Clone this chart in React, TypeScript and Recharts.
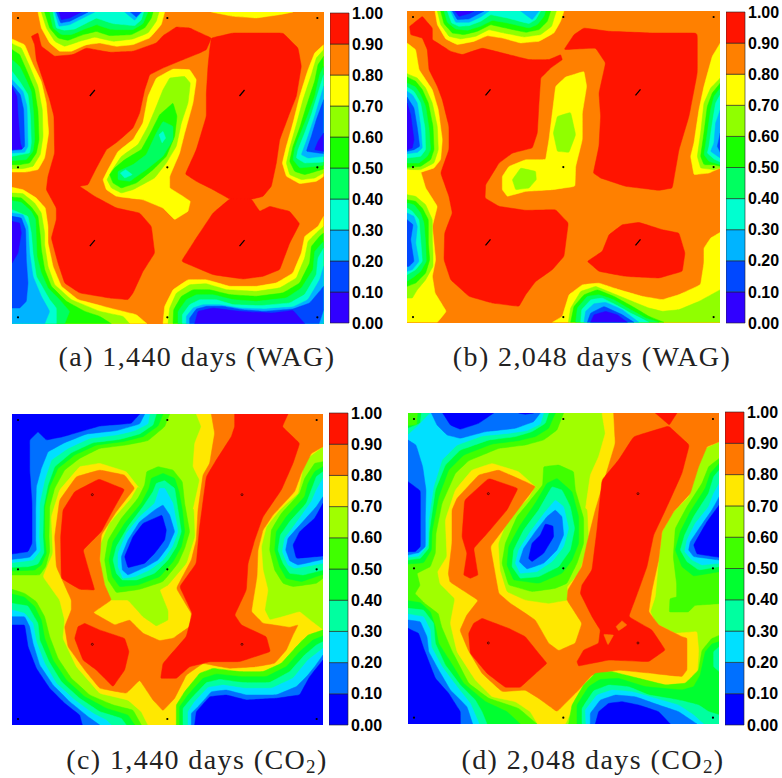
import React from 'react';
import { ScatterChart, Scatter, XAxis, YAxis, BarChart, Bar } from 'recharts';

type Band = [number, number[]];

const LEVEL_EDGES = [0, 0.1, 0.2, 0.3, 0.4, 0.5, 0.6, 0.7, 0.8, 0.9, 1];
const TICKS = LEVEL_EDGES;
const WAG_COLORS = ['#3000ff', '#0048ff', '#00b4ff', '#00ffd0', '#00ff60', '#18ff00', '#90ff00', '#ffff00', '#ff8000', '#ff1400'];
const CO2_COLORS = ['#0000ff', '#0070ff', '#00e0ff', '#00ffa0', '#00ff30', '#40ff00', '#a0ff00', '#ffe800', '#ff7800', '#ff1400'];

const bandsA: Band[] = [
  [7, [635,37,700,50,770,55,840,45,880,37]],
  [7, [115,37,125,85,150,130,180,155,215,155,260,135,300,130,350,140,400,135,450,115,485,75,495,37]],
  [6, [125,37,140,85,165,125,195,140,240,125,285,112,340,125,400,118,445,100,470,65,478,37]],
  [5, [135,37,150,85,175,115,205,122,250,105,290,95,330,108,395,105,435,85,455,55,460,37]],
  [4, [150,37,160,85,185,105,215,105,255,88,290,75,335,90,400,90,430,72,445,37]],
  [3, [160,37,170,85,195,92,225,88,265,68,290,55,340,72,405,78,425,60,432,37]],
  [2, [165,37,178,80,210,75,250,55,285,37]],
  [2, [375,37,405,62,425,37]],
  [1, [170,37,183,70,210,65,250,45,265,37]],
  [1, [392,37,410,52,425,37]],
  [0, [178,37,185,60,210,55,245,37]],
  [7, [37,118,75,135,100,195,125,245,140,310,147,400,135,475,115,510,80,517,37,517]],
  [6, [37,132,65,145,90,200,115,260,128,330,130,410,122,465,100,500,70,507,37,507]],
  [5, [37,150,60,165,80,210,105,270,115,335,118,420,110,460,90,490,60,495,37,495]],
  [4, [37,180,60,200,75,230,95,275,102,340,105,420,100,455,80,480,37,483]],
  [3, [37,215,60,245,85,285,92,345,95,430,90,460,37,470]],
  [2, [37,240,70,275,82,320,85,440,75,458,37,460]],
  [1, [37,255,62,285,72,330,75,440,65,450,37,452]],
  [0, [37,262,52,290,55,345,62,430,68,448,37,450]],
  [7, [37,563,70,570,110,595,137,625,145,680,145,730,160,800,185,860,235,900,330,925,410,945,442,972,37,972]],
  [6, [37,580,70,582,105,610,125,640,135,700,135,735,145,800,165,855,215,900,300,935,370,950,390,972,37,972]],
  [5, [37,592,65,595,95,622,115,650,122,710,125,750,135,810,155,860,200,905,255,935,300,950,335,972,37,972]],
  [4, [37,603,65,608,95,635,108,660,110,720,112,770,125,820,145,865,180,900,210,935,195,972,37,972]],
  [3, [37,630,85,650,95,700,100,760,110,830,150,900,170,925,170,972,37,972]],
  [2, [37,640,70,645,85,680,90,760,100,830,125,890,150,935,135,972,37,972]],
  [1, [37,650,65,655,78,690,80,780,85,850,80,905,60,925,37,925]],
  [0, [37,665,60,670,65,700,55,760,37,790]],
  [7, [972,135,945,160,925,210,900,290,880,370,860,440,848,490,860,530,900,552,950,545,972,530]],
  [6, [972,150,950,175,935,225,910,300,890,375,870,445,860,490,870,525,905,540,945,535,972,520]],
  [5, [972,170,955,195,945,245,920,320,900,385,880,440,870,485,885,515,915,525,972,508]],
  [4, [972,200,960,225,945,290,925,345,905,395,885,445,880,480,900,505,972,497]],
  [3, [972,225,955,280,935,345,915,400,895,450,890,475,915,490,972,487]],
  [2, [972,260,960,300,945,350,925,410,905,465,925,475,972,470]],
  [1, [972,300,950,360,935,410,920,455,972,462]],
  [0, [972,400,955,425,945,450,972,455]],
  [7, [490,972,495,920,520,870,565,840,620,840,690,860,770,860,830,850,880,820,905,760,915,710,955,680,972,650,972,972]],
  [6, [505,972,510,925,530,880,570,855,620,852,680,870,770,875,840,865,890,835,915,775,925,725,955,695,972,680,972,972]],
  [5, [520,972,522,930,545,890,580,870,630,870,690,885,770,890,850,880,900,850,930,790,935,740,960,710,972,700,972,972]],
  [4, [535,972,535,935,560,900,590,885,640,885,700,900,770,905,860,895,905,865,940,810,945,755,972,725,972,972]],
  [3, [548,972,548,945,570,915,600,900,650,900,700,915,780,918,870,910,915,885,950,825,955,775,972,745,972,972]],
  [2, [560,972,560,950,580,925,610,915,660,915,720,925,790,928,880,922,925,900,960,840,972,800,972,972]],
  [1, [570,972,570,955,590,928,620,920,670,920,730,930,790,935,880,928,930,910,972,860,972,930,958,972]],
  [0, [585,972,595,935,640,925,720,935,820,940,880,932,915,972]],
  [9, [95,110,115,100,125,140,165,170,220,165,260,145,330,158,400,155,470,130,490,108,530,82,570,85,635,115,620,150,600,160,550,180,490,205,450,225,435,270,420,340,400,385,355,425,320,450,290,505,265,555,240,560,285,590,350,625,420,640,455,680,465,760,430,815,400,880,385,900,330,895,240,880,195,850,175,790,155,715,170,660,170,625,140,570,145,530,165,460,163,350,150,300,130,240,110,180,105,135]],
  [9, [635,115,700,100,850,100,895,145,905,200,890,290,870,340,840,420,830,490,815,560,790,590,760,598,690,598,640,570,590,545,557,523,590,450,620,350,620,280,625,200,630,150]],
  [9, [690,598,755,598,780,635,810,620,870,635,900,672,870,730,840,810,790,830,730,838,640,825,545,785,590,715,640,640]],
  [7, [325,510,355,455,400,420,430,370,445,290,470,235,520,208,570,210,590,240,580,310,555,400,540,460,510,530,510,565,550,590,572,605,565,635,525,660,490,625,430,600,350,590,320,570,310,540]],
  [6, [335,515,365,470,415,435,445,380,470,320,490,270,510,235,555,230,572,250,565,310,545,370,530,440,500,490,465,535,400,570,365,580,335,565,322,540]],
  [5, [345,505,375,480,425,450,455,395,480,345,520,310,532,350,525,410,500,470,460,510,410,550,365,565,340,550,330,525]],
  [4, [355,515,400,495,440,465,470,400,490,365,520,380,520,420,490,470,440,510,390,545,355,540]],
  [3, [362,520,378,510,398,525,375,535]],
  [3, [478,405,490,395,498,415,487,430]],
];

const bandsB: Band[] = [
  [7, [128,34,135,75,160,118,195,135,245,125,285,108,330,115,385,130,440,125,485,100,505,65,515,34]],
  [6, [135,34,145,75,170,110,205,118,250,110,290,90,335,100,395,112,445,105,478,80,492,34]],
  [5, [145,34,155,72,180,100,215,105,255,95,295,75,340,85,400,98,440,90,465,65,475,34]],
  [4, [155,34,165,68,190,88,225,92,265,80,300,62,345,70,410,85,435,75,455,50,460,34]],
  [3, [165,34,178,70,200,80,230,78,265,65,295,45,345,55,410,72,430,60,445,34]],
  [2, [175,34,190,68,230,68,265,52,290,34]],
  [2, [385,34,420,60,440,34]],
  [1, [180,34,195,60,230,58,260,42,275,34]],
  [0, [188,34,200,50,230,42,245,34]],
  [7, [44,130,70,150,80,210,120,270,138,330,150,420,145,480,125,505,85,518,44,518]],
  [6, [44,222,75,235,100,265,120,310,135,380,138,450,125,490,85,510,44,510]],
  [5, [44,232,70,245,90,270,108,310,122,380,125,450,115,480,85,500,44,503]],
  [4, [44,250,70,262,85,285,100,320,110,385,115,450,105,470,80,490,44,490]],
  [3, [44,262,65,275,85,310,98,385,100,450,85,470,44,475]],
  [2, [44,275,60,285,75,310,85,380,90,445,75,458,44,462]],
  [1, [44,292,65,325,75,385,82,440,65,450,44,455]],
  [0, [44,310,55,345,65,420,60,445,44,450]],
  [7, [44,510,85,515,100,565,135,620,120,680,130,780,120,830,128,880,162,935,135,968,44,968]],
  [6, [44,585,70,590,100,615,120,660,120,720,122,760,122,800,100,840,75,870,60,895,44,895]],
  [5, [44,600,70,605,90,625,108,660,108,730,112,780,100,820,70,850,44,860]],
  [4, [44,610,65,615,85,640,95,670,100,730,102,785,85,815,60,835,44,845]],
  [3, [44,625,60,635,80,660,85,720,90,785,70,810,44,825]],
  [2, [44,640,65,650,75,680,70,730,80,785,60,810,44,815]],
  [1, [44,660,62,675,55,720,65,785,50,800,44,800]],
  [7, [984,130,960,170,935,260,920,330,905,430,895,470,905,525,950,520,984,505]],
  [6, [984,235,955,265,935,310,925,400,915,470,925,505,965,510,984,505]],
  [5, [984,250,960,280,945,320,935,400,925,470,935,495,965,495,984,500]],
  [4, [984,265,965,290,955,330,945,400,935,465,950,485,984,495]],
  [3, [984,285,970,310,960,370,950,440,945,460,965,478,984,487]],
  [2, [984,330,970,370,965,430,955,455,984,475]],
  [1, [984,400,975,440,984,458]],
  [7, [480,968,510,950,530,885,570,855,620,850,680,870,750,890,810,900,860,885,925,855,935,790,935,745,955,715,984,698,984,968]],
  [6, [528,968,535,925,565,875,610,860,660,880,720,905,770,925,810,935,860,930,920,905,984,870,984,968]],
  [5, [535,968,545,920,575,885,615,870,665,890,720,920,770,950,815,968]],
  [4, [550,968,555,925,585,890,620,885,665,900,715,930,760,955,800,968]],
  [3, [565,968,568,930,595,900,630,895,670,915,715,940,770,968]],
  [2, [575,968,580,935,605,912,640,908,690,930,740,968]],
  [1, [585,968,595,940,635,920,690,945,725,968]],
  [0, [595,968,605,945,640,935,675,945,705,968]],
  [9, [52,80,90,50,120,85,120,120,175,155,210,165,270,145,350,165,410,180,470,180,505,165,510,180,475,205,445,235,440,310,435,400,420,445,360,460,320,490,280,555,278,595,320,620,400,632,490,630,528,670,515,770,480,810,430,845,400,885,380,920,300,910,230,890,175,840,155,780,157,700,180,640,170,590,145,520,170,450,170,380,150,300,135,260,110,210,105,150,90,115,55,105]],
  [9, [515,150,545,105,575,85,650,95,780,100,915,100,915,220,890,350,860,450,840,565,800,572,700,560,625,535,603,520,620,440,625,350,620,280,640,190,610,145]],
  [9, [585,785,630,755,650,705,690,675,740,668,810,690,860,700,878,760,870,815,800,835,700,830,620,815]],
  [7, [460,480,470,420,480,340,490,260,520,232,575,215,583,260,570,340,570,420,550,500,548,560,480,570,400,575,345,590,330,570,330,530,350,500,400,480]],
  [6, [483,400,495,350,535,338,550,405,530,458,495,455]],
  [6, [360,540,385,505,430,515,432,540,410,565,370,570]],
];

const bandsC: Band[] = [
  [7, [590,32,970,32,970,130,915,170,895,270,840,320,800,370,785,430,790,500,805,560,795,620,810,650,850,640,900,625,950,665,970,680,945,692,905,710,880,745,835,795,760,810,690,805,615,815,570,865,535,910,530,965,445,965,425,925,385,890,300,870,230,790,190,705,195,650,180,590,130,520,160,450,155,340,180,260,240,190,300,180,380,205,415,250,480,300,580,320,600,230,580,190,585,120,605,70]],
  [6, [415,250,480,295,582,315,585,400,560,480,505,545,480,560,505,622,505,650,470,668,430,640,385,590,330,590,305,510,300,430,330,360,395,285]],
  [8, [635,32,970,32,970,130,935,150,905,210,885,265,820,335,790,380,775,440,772,520,755,625,790,660,870,672,895,665,880,695,860,740,825,780,770,790,690,795,610,780,560,815,525,885,490,922,460,890,420,830,380,870,300,855,255,800,205,730,195,670,215,620,215,590,170,490,165,400,180,290,230,220,300,200,375,215,405,255,350,325,305,395,300,470,315,545,335,590,280,628,345,665,390,650,430,690,480,712,520,705,570,670,575,630,530,555,575,470,590,410,595,320,610,215,630,180,645,90]],
  [9, [298,227,375,258,340,320,305,385,250,440,270,510,285,560,240,558,185,525,183,400,190,320,225,265]],
  [9, [255,660,300,680,375,705,388,745,375,800,340,850,290,800,250,770,225,705,235,670]],
  [9, [705,32,865,32,848,70,900,120,880,180,845,260,790,340,765,410,745,480,740,560,705,635,725,665,800,700,812,745,720,775,630,775,570,790,530,825,483,825,490,780,560,700,578,630,540,550,590,480,600,370,620,220,650,170,695,100,705,70]],
  [5, [37,32,510,32,495,70,445,112,380,125,300,135,240,165,195,200,165,255,150,310,148,400,150,445,138,490,120,515,37,515]],
  [4, [37,32,490,32,475,68,430,100,370,115,290,125,225,155,175,195,150,250,135,310,135,400,140,450,125,485,105,500,37,503]],
  [3, [37,32,470,32,460,65,420,92,360,108,280,118,215,148,165,190,145,245,132,310,130,400,133,448,115,482,85,490,37,492]],
  [2, [37,32,450,32,445,62,405,82,350,95,270,105,205,135,155,170,135,230,120,300,118,400,122,442,100,470,37,478]],
  [1, [37,32,435,32,420,62,350,82,260,92,195,118,145,145,125,195,110,250,108,320,108,410,110,440,90,462,37,468]],
  [0, [37,32,420,32,395,60,300,68,190,100,140,110,115,85,90,110,90,200,97,300,97,420,85,445,37,452]],
  [5, [37,558,75,570,110,595,135,640,150,700,175,765,215,825,270,875,340,905,400,920,425,965,37,965]],
  [4, [37,572,75,582,105,610,125,650,135,705,160,770,200,830,255,880,320,915,385,935,405,965,37,965]],
  [3, [37,600,85,608,115,660,120,710,148,775,185,835,240,885,300,925,365,945,380,965,37,965]],
  [2, [37,620,75,630,100,660,110,715,135,780,170,840,225,890,280,930,320,950,335,965,37,965]],
  [1, [37,640,75,640,90,670,100,720,120,785,160,845,210,895,265,940,300,965,37,965]],
  [0, [37,665,75,665,85,730,110,795,150,855,195,900,240,935,248,965,37,965]],
  [5, [530,965,530,905,555,865,600,810,640,795,720,805,790,805,845,780,890,730,925,695,970,680,970,965]],
  [4, [540,965,540,910,565,875,610,825,650,812,725,820,800,820,860,790,900,745,940,710,970,698,970,965]],
  [3, [550,965,550,915,575,885,620,838,660,828,730,838,810,838,870,805,915,755,950,725,970,715,970,965]],
  [2, [565,965,565,925,585,895,625,852,670,845,735,855,815,855,880,825,925,770,970,735,970,965]],
  [1, [575,965,575,930,600,905,635,865,680,860,740,875,830,875,890,850,925,815,945,790,970,755,970,965]],
  [0, [585,965,590,925,630,880,680,875,740,890,830,885,900,875,930,820,970,770,970,965]],
  [5, [970,175,945,180,915,225,900,270,845,330,815,380,810,440,825,500,850,540,880,550,950,540,970,525]],
  [4, [970,190,945,205,925,240,915,280,860,340,830,385,825,440,840,490,860,525,905,535,970,513]],
  [3, [970,205,950,220,935,260,920,300,870,355,842,395,835,440,850,480,870,510,910,515,970,500]],
  [2, [970,225,950,260,935,295,885,365,855,405,848,445,865,485,885,495,970,480]],
  [1, [970,280,950,310,905,360,865,405,858,440,870,472,895,485,970,468]],
  [0, [970,300,945,345,900,385,880,425,890,465,970,458]],
  [5, [441,205,475,190,520,200,548,235,555,300,570,385,555,435,535,480,490,535,420,558,350,568,325,530,315,470,325,410,365,345,415,285,435,245]],
  [4, [455,225,490,210,525,225,538,265,548,320,555,385,545,430,520,475,480,520,415,545,360,550,338,520,328,470,340,415,375,360,425,300,448,255]],
  [3, [470,240,495,232,525,255,535,320,545,385,530,430,505,470,465,510,410,530,368,530,350,510,340,470,350,430,385,370,430,310,460,265]],
  [2, [480,255,495,255,520,300,535,385,518,430,490,470,450,500,405,520,370,525,355,490,355,450,380,390,420,340,465,300]],
  [1, [490,305,510,335,525,385,505,430,475,470,440,490,385,515,368,500,365,460,385,410,420,355,465,320]],
  [0, [487,335,500,380,495,410,465,450,435,480,385,493,375,460,400,400,430,360]],
];

const bandsD: Band[] = [
  [7, [630,29,982,29,982,115,940,135,915,195,890,280,840,330,810,385,800,470,790,580,775,625,790,660,850,690,915,685,920,740,915,830,870,860,760,845,680,825,620,825,560,880,520,962,437,962,415,925,370,895,300,880,250,830,195,745,175,660,189,586,144,541,137,505,165,460,160,350,190,260,240,200,300,180,380,205,430,250,480,300,580,320,595,215,620,160,640,90]],
  [6, [430,250,480,295,585,315,590,420,560,510,525,550,528,590,470,600,400,590,345,565,325,500,320,420,350,345,410,285]],
  [8, [665,29,982,29,982,115,945,130,920,190,895,270,845,325,810,385,800,470,780,560,770,625,800,665,870,700,885,705,885,800,870,820,780,810,680,800,600,815,560,860,495,925,440,885,400,860,330,865,270,810,229,741,204,681,224,636,259,591,174,536,169,511,180,420,180,320,195,285,260,215,320,200,400,235,430,250,400,290,340,370,295,430,320,570,355,600,430,650,470,720,500,742,550,720,570,660,525,590,528,560,570,490,585,420,610,320,640,220,670,120]],
  [9, [290,225,378,255,345,320,290,385,245,435,258,515,235,525,215,515,225,450,210,400,218,290]],
  [9, [270,645,350,675,400,700,440,750,465,780,420,820,385,852,340,852,285,810,235,750,230,690,245,660]],
  [9, [725,100,830,68,892,125,870,210,825,310,785,395,765,490,740,560,710,640,780,680,820,740,770,775,650,770,560,788,555,775,575,740,620,720,625,680,600,640,565,570,570,545,600,500,615,380,630,230,680,170]],
  [9, [790,29,855,29,832,65]],
  [8, [635,693,665,695,648,725]],
  [8, [672,670,690,652,705,665,680,682]],
  [5, [48,29,515,29,495,80,455,110,400,125,320,135,230,172,190,210,150,300,132,390,130,450,115,490,75,510,84,546,69,571,99,601,139,631,149,671,179,741,230,840,290,885,380,915,435,962,48,962]],
  [4, [48,68,75,65,78,29,490,29,470,75,430,100,380,112,300,122,215,155,170,200,140,280,120,385,118,440,95,478,48,482]],
  [3, [48,75,85,60,88,29,470,29,460,60,420,85,370,100,290,110,205,140,160,185,130,260,112,385,110,435,85,465,48,470]],
  [2, [48,95,75,70,115,29,455,29,445,62,405,82,350,90,270,98,195,125,150,170,125,250,110,350,108,425,80,458,48,462]],
  [1, [118,29,445,29,425,55,370,75,280,85,205,105,165,95,135,65]],
  [0, [152,29,175,65,205,78,260,60,305,29]],
  [0, [380,29,400,33,425,29]],
  [1, [48,110,72,125,92,190,102,260,100,340,100,430,80,448,48,455]],
  [0, [48,235,85,262,85,360,85,430,70,445,48,445]],
  [4, [48,592,85,598,115,625,130,670,140,720,175,775,215,840,280,895,345,925,385,962,48,962]],
  [3, [48,615,95,620,125,660,130,720,160,785,205,845,250,890,270,925,285,962,48,962]],
  [2, [48,632,95,640,115,680,118,730,150,790,195,850,235,900,262,962,48,962]],
  [1, [48,650,85,655,105,700,110,745,140,800,175,860,225,910,242,962,48,962]],
  [0, [48,675,80,690,95,735,130,825,170,870,205,925,205,962,48,962]],
  [5, [530,962,540,905,575,845,610,810,660,805,720,820,820,845,880,840,920,800,930,741,959,706,982,696,982,962]],
  [4, [555,962,555,905,590,850,625,828,680,825,760,850,870,860,905,850,925,815,940,745,960,722,982,715,982,962]],
  [3, [570,962,570,915,605,862,650,845,710,850,770,875,860,890,920,905,950,925,982,935,982,962]],
  [3, [982,730,965,745,965,790,982,805]],
  [2, [582,962,580,920,615,875,660,860,720,865,790,885,860,905,905,935,935,962]],
  [1, [595,962,595,930,625,890,670,875,730,880,800,905,860,925,915,962]],
  [0, [610,962,620,925,650,900,690,895,740,905,800,925,835,962]],
  [5, [982,165,950,190,930,240,885,310,850,375,844,461,854,541,854,581,834,586,832,626,889,626,909,606,982,601]],
  [4, [982,180,955,210,940,255,895,325,865,385,850,440,870,490,905,518,982,505]],
  [3, [982,200,965,220,950,270,905,340,878,395,865,440,885,475,920,500,982,490]],
  [2, [982,240,965,270,950,310,910,360,885,410,878,445,900,470,930,485,982,480]],
  [1, [982,280,960,320,925,370,895,415,890,440,905,460,982,470]],
  [0, [982,305,945,355,905,425,915,452,982,462]],
  [5, [455,190,500,185,545,205,550,260,575,345,575,420,555,480,525,540,490,555,420,565,350,545,330,480,340,420,375,340,420,285,452,245]],
  [4, [465,240,495,225,540,265,560,340,560,420,540,470,510,510,440,540,365,530,345,485,350,430,385,365,430,300]],
  [3, [480,250,510,260,535,310,548,375,535,440,500,490,440,520,385,525,360,490,365,440,395,380,440,320]],
  [2, [490,290,515,310,530,375,515,430,480,475,435,505,385,510,370,480,380,440,415,385,460,325]],
  [1, [490,320,510,340,515,395,495,440,455,480,405,497,382,475,395,435,430,385,465,340]],
  [0, [460,362,483,368,485,400,455,450,420,475,410,465,420,420,445,395]],
];

const wellsA = [55,503,953].flatMap((y) => [55,503,953].map((x) => ({ x, y })));
const slashesA = [278,727].flatMap((x) => [280,730].map((y) => ({ x, y })));
const wellsB = [52,502,952].flatMap((y) => [62,513,964].map((x) => ({ x, y })));
const slashesB = [287,737].flatMap((x) => [278,728].map((y) => ({ x, y })));
const wellsC = [50,498,947].flatMap((y) => [55,503,951].map((x) => ({ x, y })));
const ringsC = [278,727].flatMap((x) => [274,723].map((y) => ({ x, y })));
const wellsD = [47,495,943].flatMap((y) => [66,514,963].map((x) => ({ x, y })));
const ringsD = [289,738].flatMap((x) => [271,719].map((y) => ({ x, y })));

// Vertices are repeated so the closed spline stays close to the traced outline;
// those on the frame are repeated once more so they stay sharp corners.
const toPts = (flat: number[], xd: number[], yd: number[]) => {
  const out: { x: number; y: number }[] = [];
  for (let i = 0; i < flat.length; i += 2) {
    const x = flat[i];
    const y = flat[i + 1];
    const onFrame = x <= xd[0] || x >= xd[1] || y <= yd[0] || y >= yd[1];
    const n = onFrame ? 3 : 2;
    for (let k = 0; k < n; k++) out.push({ x, y });
  }
  return out;
};

const noDot = () => null;
const Dot = (p: any) => <circle cx={p.cx} cy={p.cy} r={1.1} fill="#000" />;
const Slash = (p: any) => (
  <path d={`M${p.cx - 2.5},${p.cy + 3}L${p.cx + 2.5},${p.cy - 3}`} stroke="#000" strokeWidth={1.2} />
);
const Ring = (p: any) => <circle cx={p.cx} cy={p.cy} r={1} fill="none" stroke="#000" strokeWidth={0.6} />;

function Field({ left, top, w, h, xDomain, yDomain, base, colors, bands, wells, marks, markShape }: any) {
  return (
    <div style={{ position: 'absolute', left, top, width: w, height: h, overflow: 'hidden' }}>
      <ScatterChart width={w} height={h} margin={{ top: 0, right: 0, bottom: 0, left: 0 }} style={{ background: colors[base] }}>
        <XAxis type="number" dataKey="x" domain={xDomain} hide allowDataOverflow />
        <YAxis type="number" dataKey="y" domain={yDomain} hide reversed allowDataOverflow />
        {bands.map((b: Band, i: number) => (
          <Scatter
            key={i}
            data={toPts(b[1], xDomain, yDomain)}
            isAnimationActive={false}
            shape={noDot}
            line={{ fill: colors[b[0]], stroke: colors[b[0]], strokeWidth: 0.5 }}
            lineType="joint"
            lineJointType="basisClosed"
          />
        ))}
        <Scatter data={wells} isAnimationActive={false} shape={Dot} />
        <Scatter data={marks} isAnimationActive={false} shape={markShape} />
      </ScatterChart>
    </div>
  );
}

function ColorBar({ left, top, height, colors }: any) {
  const row = [Object.fromEntries(colors.map((_: string, i: number) => [`b${i}`, LEVEL_EDGES[i + 1] - LEVEL_EDGES[i]]))];
  return (
    <div style={{ position: 'absolute', left, top: top - 10, width: 62, height: height + 20 }}>
      <BarChart width={62} height={height + 20} data={row} margin={{ top: 10, right: 0, bottom: 10, left: 0 }} barCategoryGap={0}>
        <XAxis dataKey={() => 'c'} hide />
        <YAxis
          orientation="right"
          width={43}
          domain={[0, 1]}
          ticks={TICKS}
          interval={0}
          tickFormatter={(v: number) => v.toFixed(2)}
          axisLine={false}
          tickLine={false}
          tickSize={0}
          tickMargin={3}
          tick={{ fontFamily: 'Liberation Sans', fontWeight: 700, fontSize: 16, fill: '#000', textAnchor: 'start' }}
        />
        {colors.map((c: string, i: number) => (
          <Bar key={i} dataKey={`b${i}`} stackId="s" fill={c} stroke="#222" strokeWidth={0.6} isAnimationActive={false} />
        ))}
      </BarChart>
    </div>
  );
}

function Caption({ cx, top, children }: any) {
  return (
    <div
      style={{
        position: 'absolute',
        left: cx - 190,
        top,
        width: 380,
        textAlign: 'center',
        fontFamily: '"Liberation Serif", serif',
        fontSize: 28,
        lineHeight: '30px',
        color: '#222',
        letterSpacing: 1.4,
      }}
    >
      {children}
    </div>
  );
}

const sub: React.CSSProperties = { fontSize: 19, verticalAlign: -4, lineHeight: 0 };

export default function App() {
  return (
    <div style={{ position: 'absolute', left: 0, top: 0, width: 782, height: 778, background: '#fff', overflow: 'hidden' }}>
      <Field left={12.3} top={12.3} w={311.7} h={311.7} xDomain={[37, 972]} yDomain={[37, 972]} base={8} colors={WAG_COLORS} bands={bandsA} wells={wellsA} marks={slashesA} markShape={Slash} />
      <Field left={406.7} top={11.3} w={313.3} h={311.4} xDomain={[44, 984]} yDomain={[34, 968]} base={8} colors={WAG_COLORS} bands={bandsB} wells={wellsB} marks={slashesB} markShape={Slash} />
      <Field left={12.3} top={413.7} w={311} h={311} xDomain={[37, 970]} yDomain={[32, 965]} base={6} colors={CO2_COLORS} bands={bandsC} wells={wellsC} marks={ringsC} markShape={Ring} />
      <Field left={408} top={412.7} w={311.3} h={311} xDomain={[48, 982]} yDomain={[29, 962]} base={6} colors={CO2_COLORS} bands={bandsD} wells={wellsD} marks={ringsD} markShape={Ring} />
      <ColorBar left={330} top={13} height={310} colors={WAG_COLORS} />
      <ColorBar left={726} top={12} height={311} colors={WAG_COLORS} />
      <ColorBar left={329} top={413} height={312} colors={CO2_COLORS} />
      <ColorBar left={725} top={412} height={313} colors={CO2_COLORS} />
      <Caption cx={197} top={342}>(a) 1,440 days (WAG)</Caption>
      <Caption cx={592} top={342}>(b) 2,048 days (WAG)</Caption>
      <Caption cx={197} top={745}>(c) 1,440 days (CO<sub style={sub}>2</sub>)</Caption>
      <Caption cx={593} top={745}>(d) 2,048 days (CO<sub style={sub}>2</sub>)</Caption>
    </div>
  );
}
